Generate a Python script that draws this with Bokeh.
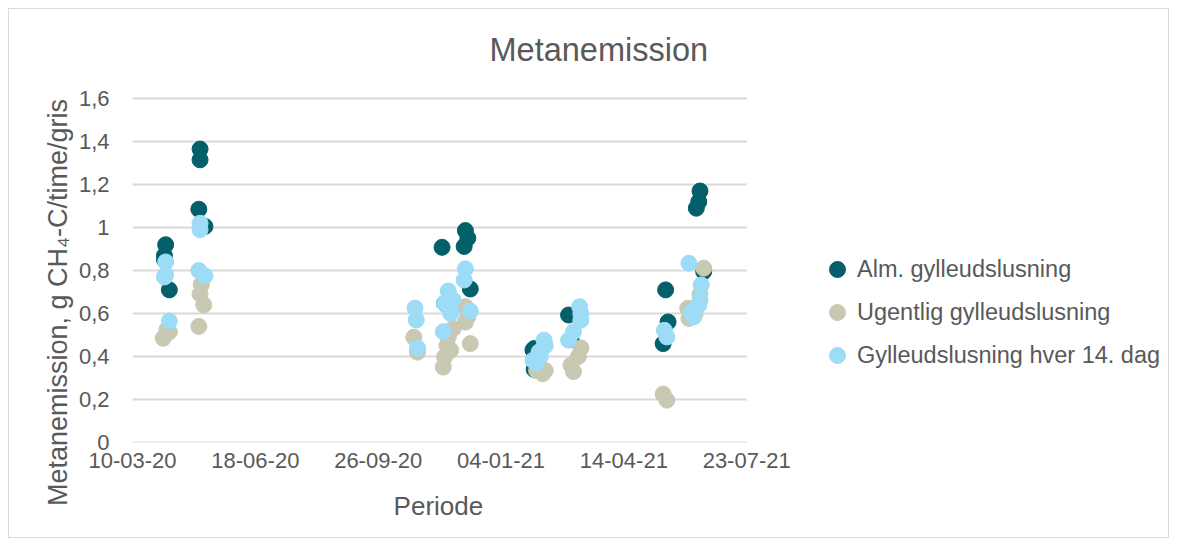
import pandas as pd
from bokeh.plotting import figure
from bokeh.models import Range1d, FixedTicker, DatetimeTickFormatter, Legend, LegendItem
from bokeh.embed import file_html
from bokeh.resources import INLINE

# ---------------- data ----------------
title_text = "Metanemission"
x_title = "Periode"
y_title = "Metanemission, g CH\u2084-C/time/gris"
series_names = ["Alm. gylleudslusning", "Ugentlig gylleudslusning", "Gylleudslusning hver 14. dag"]

alm_dates = ["2020-04-06", "2020-04-05", "2020-04-05", "2020-04-09",
             "2020-05-04", "2020-05-04", "2020-05-03", "2020-05-08",
             "2020-11-17", "2020-11-19", "2020-12-06", "2020-12-08", "2020-12-05", "2020-12-10",
             "2021-01-31", "2021-01-30", "2021-01-31",
             "2021-02-28", "2021-03-02",
             "2021-05-18", "2021-05-20", "2021-05-16",
             "2021-06-15", "2021-06-14", "2021-06-12", "2021-06-18"]
alm_values = [0.92, 0.87, 0.85, 0.71,
              1.365, 1.315, 1.085, 1.005,
              0.908, 0.647, 0.986, 0.951, 0.912, 0.714,
              0.437, 0.43, 0.34,
              0.593, 0.48,
              0.71, 0.561, 0.46,
              1.17, 1.12, 1.09, 0.795]

ugentlig_dates = ["2020-04-07", "2020-04-04", "2020-04-09",
                  "2020-05-05", "2020-05-04", "2020-05-07", "2020-05-03",
                  "2020-10-25", "2020-10-28",
                  "2020-12-06", "2020-12-08", "2020-12-06", "2020-11-26", "2020-11-22",
                  "2020-11-21", "2020-11-24", "2020-11-19", "2020-11-18", "2020-12-10",
                  "2021-02-09", "2021-02-02", "2021-02-07",
                  "2021-03-10", "2021-03-08", "2021-03-02", "2021-03-04",
                  "2021-05-16", "2021-05-19",
                  "2021-06-18", "2021-06-05", "2021-06-06", "2021-06-15", "2021-06-11"]
ugentlig_values = [0.525, 0.485, 0.515,
                   0.735, 0.69, 0.64, 0.54,
                   0.49, 0.42,
                   0.632, 0.585, 0.56, 0.53, 0.49,
                   0.452, 0.429, 0.398, 0.351, 0.46,
                   0.335, 0.335, 0.32,
                   0.44, 0.40, 0.36, 0.33,
                   0.225, 0.197,
                   0.811, 0.624, 0.577, 0.69, 0.60]

hver14_dates = ["2020-04-06", "2020-04-06", "2020-04-05", "2020-04-09",
                "2020-05-04", "2020-05-04", "2020-05-03", "2020-05-08",
                "2020-10-26", "2020-10-27", "2020-10-28",
                "2020-12-06", "2020-12-05", "2020-11-22", "2020-11-26", "2020-11-19",
                "2020-11-24", "2020-12-10", "2020-11-18",
                "2021-02-08", "2021-02-04", "2021-01-30", "2021-02-05", "2021-02-02", "2021-02-09",
                "2021-03-09", "2021-03-10", "2021-03-04", "2021-02-28", "2021-03-10",
                "2021-05-17", "2021-05-19",
                "2021-06-06", "2021-06-16", "2021-06-15", "2021-06-10", "2021-06-08", "2021-06-14"]
hver14_values = [0.84, 0.78, 0.77, 0.565,
                 1.02, 0.99, 0.80, 0.775,
                 0.625, 0.57, 0.44,
                 0.808, 0.756, 0.705, 0.663, 0.647,
                 0.600, 0.611, 0.515,
                 0.476, 0.421, 0.382, 0.40, 0.37, 0.45,
                 0.632, 0.569, 0.515, 0.476, 0.60,
                 0.522, 0.491,
                 0.834, 0.733, 0.663, 0.585, 0.608, 0.64]

x_tick_dates = ["2020-03-10", "2020-06-18", "2020-09-26", "2021-01-04", "2021-04-14", "2021-07-23"]
y_ticks = [0, 0.2, 0.4, 0.6, 0.8, 1.0, 1.2, 1.4, 1.6]
y_tick_labels = ["0", "0,2", "0,4", "0,6", "0,8", "1", "1,2", "1,4", "1,6"]

colors = ["#03606B", "#C9C8B3", "#9DDCF6"]

# ---------------- layout (pixels) ----------------
FONT = "Liberation Sans"
TXT = "#595959"
GRID = "#D9D9D9"
W, H = 1161, 530
LEFT, TOP, BOTTOM = 123, 78, 97   # borders around the plotting frame
FRAME_W, FRAME_H = W - 2 - LEFT, H - 2 - TOP - BOTTOM
AXIS_W, AXIS_H = 613, 342          # pixel extent of the chart's own axes inside the frame

x_start, x_stop = pd.Timestamp(x_tick_dates[0]), pd.Timestamp(x_tick_dates[-1])
x_end = x_start + (x_stop - x_start) * (FRAME_W / AXIS_W)
y_end = y_ticks[-1] * FRAME_H / AXIS_H

p = figure(width=W, height=H, output_backend="svg", toolbar_location=None,
           x_axis_type="datetime",
           x_range=Range1d(x_start, x_end),
           y_range=Range1d(y_ticks[0], y_end),
           min_border_left=LEFT, min_border_right=0, min_border_top=TOP, min_border_bottom=BOTTOM,
           background_fill_color="white", border_fill_color="white")
p.styles = {"border": "1px solid #D9D9D9", "box-sizing": "border-box",
            "margin-left": "8px", "margin-top": "8px"}
p.outline_line_color = None

p.title.text = title_text
p.title.align = "left"
p.title.offset = 357
p.title.standoff = 40
p.title.text_font = FONT
p.title.text_font_size = "32.5px"
p.title.text_font_style = "normal"
p.title.text_color = TXT

# axes
x_tick_ts = pd.to_datetime(x_tick_dates)
p.xaxis.ticker = FixedTicker(ticks=[t.value // 10**6 for t in x_tick_ts])
fmt = "%d-%m-%y"
p.xaxis.formatter = DatetimeTickFormatter(microseconds=fmt, milliseconds=fmt, seconds=fmt,
                                          minsec=fmt, minutes=fmt, hourmin=fmt, hours=fmt,
                                          days=fmt, months=fmt, years=fmt)
p.yaxis.ticker = FixedTicker(ticks=y_ticks)
p.yaxis.major_label_overrides = {v: l for v, l in zip(y_ticks, y_tick_labels)}

for ax in (p.xaxis[0], p.yaxis[0]):
    ax.major_tick_line_color = None
    ax.minor_tick_line_color = None
    ax.major_tick_in = 0
    ax.major_tick_out = 0
    ax.axis_line_color = None
    ax.major_label_text_font = FONT
    ax.major_label_text_font_size = "22px"
    ax.major_label_text_color = TXT
    ax.axis_label_text_font = FONT
    ax.axis_label_text_font_style = "normal"
    ax.axis_label_text_color = TXT

p.xaxis.major_label_standoff = 10
p.yaxis.major_label_standoff = 23
# axis titles are centred on the frame; trailing no-break spaces move them to the chart's own place
p.xaxis.axis_label = x_title + "\u00a0" * 59
p.xaxis.axis_label_text_font_size = "26px"
p.xaxis.axis_label_standoff = 20
p.yaxis.axis_label = y_title + "\u00a0" * 10
p.yaxis.axis_label_text_font_size = "27px"
p.yaxis.axis_label_standoff = 3

p.xgrid.visible = False
p.ygrid.visible = False

# horizontal gridlines across the chart's own x extent
p.segment(x0=[x_start] * len(y_ticks), x1=[x_stop] * len(y_ticks), y0=y_ticks, y1=y_ticks,
          line_color=GRID, line_width=2)

# data
all_dates = [alm_dates, ugentlig_dates, hver14_dates]
all_values = [alm_values, ugentlig_values, hver14_values]
renderers = []
for d, v, c in zip(all_dates, all_values, colors):
    r = p.scatter(x=pd.to_datetime(d), y=v, size=16, fill_color=c, line_color=c, marker="circle")
    renderers.append(r)

legend = Legend(items=[LegendItem(label=n, renderers=[r]) for n, r in zip(series_names, renderers)],
                location=(685, 67), orientation="vertical",
                padding=0, margin=0, spacing=3,
                glyph_width=40, glyph_height=40, label_height=24, label_standoff=0,
                border_line_color=None, background_fill_alpha=0,
                label_text_font=FONT, label_text_font_size="23.5px", label_text_color=TXT)
p.add_layout(legend, "center")

open("out.html", "w").write(file_html(p, INLINE))
